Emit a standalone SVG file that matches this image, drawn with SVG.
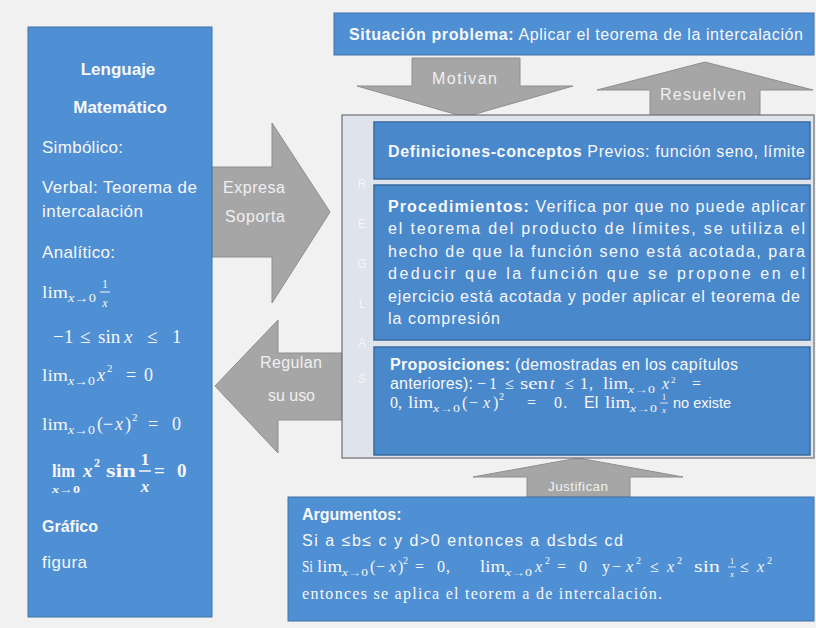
<svg xmlns="http://www.w3.org/2000/svg" width="816" height="628" viewBox="0 0 816 628">
<style>
.bg{fill:#f1f1f1}
.box{fill:#4f8fd3;stroke:#4174a8;stroke-width:1}
.ibox{fill:#4a88cc;stroke:#3a6a9c;stroke-width:1.5}
.cont{fill:#dfe3ec;stroke:#6f6f6f;stroke-width:1.2}
.arrow{fill:#a6a6a6;stroke:#8e8e8e;stroke-width:1}
.t{font-family:"Liberation Sans",Arial,sans-serif;font-size:16px;fill:#f7f7f7}
.lt{font-size:17px}
.b{font-weight:bold}
.m{font-family:"Liberation Serif","Times New Roman",serif;font-size:16px;fill:#f7f7f7}
.i{font-style:italic}
.s{font-size:10px}
.al{font-family:"Liberation Sans",Arial,sans-serif;font-size:16px;fill:#f0f0f0}
.rg{font-family:"Liberation Sans",Arial,sans-serif;font-size:12px;fill:#f6f6f6;text-anchor:middle}
.fl{stroke:#f7f7f7;stroke-width:1}
</style>
<rect class="bg" x="0" y="0" width="816" height="628"/>

<g id="connectors">
  <polygon id="arrow-motivan" class="arrow" points="412,58 520,58 520,86 573,86 465,117 357,86 412,86"/>
  <polygon id="arrow-resuelven" class="arrow" points="650,118 650,90 597,90 705,62 813,90 760,90 760,118"/>
  <polygon id="arrow-expresa" class="arrow" points="212,167 272,167 272,123 330,212 272,303 272,257 212,257"/>
  <polygon id="arrow-regulan" class="arrow" points="342,353 278,353 278,320 215,386 278,453 278,420 342,420"/>
  <polygon id="arrow-justifican" class="arrow" points="527,497 527,477 473,477 578,458 683,477 630,477 630,497"/>
  <text class="al" x="432" y="84" textLength="65">Motivan</text>
  <text class="al" x="660" y="100" textLength="86">Resuelven</text>
  <text class="al" x="223" y="193" textLength="62">Expresa</text>
  <text class="al" x="225" y="222" textLength="60">Soporta</text>
  <text class="al" x="260" y="368" textLength="62">Regulan</text>
  <text class="al" x="268" y="401" textLength="47">su uso</text>
  <text class="al" x="548" y="491" style="font-size:13.5px" textLength="60">Justifican</text>
</g>

<g id="lenguaje">
  <rect class="box" x="28" y="27" width="184" height="590"/>
  <text class="t b lt" x="118" y="75" text-anchor="middle">Lenguaje</text>
  <text class="t b lt" x="120" y="113" text-anchor="middle">Matemático</text>
  <text class="t lt" x="42" y="153" textLength="81">Simbólico:</text>
  <text class="t lt" x="42" y="193" textLength="155">Verbal: Teorema de</text>
  <text class="t lt" x="42" y="217" textLength="101">intercalación</text>
  <text class="t lt" x="42" y="258" textLength="73">Analítico:</text>
  <!-- lim 1/x -->
  <text class="m" x="42" y="298" style="font-size:17px" textLength="26" lengthAdjust="spacingAndGlyphs">lim</text>
  <text class="m" x="68" y="302" style="font-size:12px" textLength="28" lengthAdjust="spacingAndGlyphs"><tspan class="i">x</tspan>→0</text>
  <text class="m" x="105" y="288" style="font-size:12px" text-anchor="middle">1</text>
  <line class="fl" x1="100" y1="292" x2="110" y2="292"/>
  <text class="m i" x="105" y="307" style="font-size:12px" text-anchor="middle">x</text>
  <!-- -1 <= sin x <= 1 -->
  <text class="m" y="343" style="font-size:19px"><tspan x="53">−</tspan><tspan x="64">1</tspan><tspan x="80">≤</tspan><tspan x="98">sin</tspan><tspan x="124" class="i">x</tspan><tspan x="147">≤</tspan><tspan x="172">1</tspan></text>
  <!-- lim x^2 = 0 -->
  <text class="m" x="42" y="381" style="font-size:17px" textLength="26" lengthAdjust="spacingAndGlyphs">lim</text>
  <text class="m" x="68" y="385" style="font-size:12px" textLength="27" lengthAdjust="spacingAndGlyphs"><tspan class="i">x</tspan>→0</text>
  <text class="m" style="font-size:18px"><tspan x="97" y="381" class="i">x</tspan><tspan x="107" y="372" style="font-size:11px">2</tspan><tspan x="126" y="381">=</tspan><tspan x="144" y="381">0</tspan></text>
  <!-- lim (-x)^2 = 0 -->
  <text class="m" x="42" y="430" style="font-size:17px" textLength="26" lengthAdjust="spacingAndGlyphs">lim</text>
  <text class="m" x="68" y="434" style="font-size:12px" textLength="27" lengthAdjust="spacingAndGlyphs"><tspan class="i">x</tspan>→0</text>
  <text class="m" style="font-size:18px"><tspan x="97" y="430">(</tspan><tspan x="103" y="430">−</tspan><tspan x="115" y="430" class="i">x</tspan><tspan x="125" y="430">)</tspan><tspan x="132" y="421" style="font-size:11px">2</tspan><tspan x="148" y="430">=</tspan><tspan x="172" y="430">0</tspan></text>
  <!-- bold lim x^2 sin 1/x = 0 -->
  <text class="m b" x="52" y="477" style="font-size:18px" textLength="23" lengthAdjust="spacingAndGlyphs">lim</text>
  <text class="m b" x="52" y="493" style="font-size:11px" textLength="28" lengthAdjust="spacingAndGlyphs"><tspan class="i">x</tspan>→0</text>
  <text class="m b" style="font-size:19px"><tspan x="83" y="477" class="i">x</tspan><tspan x="94" y="467" style="font-size:12px">2</tspan></text>
  <text class="m b" x="106" y="477" style="font-size:19px" textLength="30" lengthAdjust="spacingAndGlyphs">sin</text>
  <text class="m b" x="145" y="465" style="font-size:17px" text-anchor="middle">1</text>
  <line class="fl" x1="139" y1="471" x2="151" y2="471" style="stroke-width:1.5"/>
  <text class="m b i" x="145" y="492" style="font-size:17px" text-anchor="middle">x</text>
  <text class="m b" style="font-size:19px"><tspan x="154" y="477">=</tspan><tspan x="177" y="477">0</tspan></text>
  <text class="t b" x="42" y="532">Gráfico</text>
  <text class="t lt" x="42" y="568" textLength="45">figura</text>
</g>

<g id="situacion">
  <rect class="box" x="334" y="13" width="480" height="42"/>
  <text class="t" x="349" y="40" textLength="454"><tspan class="b">Situación problema:</tspan> Aplicar el teorema de la intercalación</text>
</g>

<g id="reglas">
  <rect class="cont" x="342" y="115" width="472" height="343"/>
  <text class="rg" x="362" y="188">R</text>
  <text class="rg" x="362" y="228">E</text>
  <text class="rg" x="362" y="268">G</text>
  <text class="rg" x="362" y="308">L</text>
  <text class="rg" x="362" y="347">A</text>
  <text class="rg" x="362" y="383">S</text>
</g>

<g id="definiciones">
  <rect class="ibox" x="374" y="122" width="436" height="57"/>
  <text class="t" x="388" y="157" textLength="417"><tspan class="b">Definiciones-conceptos</tspan> Previos: función seno, límite</text>
</g>

<g id="procedimientos">
  <rect class="ibox" x="374" y="185" width="436" height="155"/>
  <text class="t" x="388" y="212" textLength="417"><tspan class="b">Procedimientos:</tspan> Verifica por que no puede aplicar</text>
  <text class="t" x="388" y="234" textLength="417">el teorema del producto de límites, se utiliza el</text>
  <text class="t" x="388" y="257" textLength="417">hecho de que la función seno está acotada, para</text>
  <text class="t" x="388" y="279" textLength="417">deducir que la función que se propone en el</text>
  <text class="t" x="388" y="302" textLength="412">ejercicio está acotada y poder aplicar el teorema de</text>
  <text class="t" x="388" y="324" textLength="112">la compresión</text>
</g>

<g id="proposiciones">
  <rect class="ibox" x="374" y="347" width="436" height="108"/>
  <text class="t" x="390" y="370" textLength="348"><tspan class="b">Proposiciones:</tspan> (demostradas en los capítulos</text>
  <text class="t" x="390" y="389" textLength="83">anteriores):</text>
  <text class="m"><tspan x="477" y="389">−</tspan><tspan x="489" y="389">1</tspan><tspan x="505" y="389">≤</tspan></text>
  <text class="m" x="520" y="389" textLength="28" lengthAdjust="spacingAndGlyphs">sen</text>
  <text class="m"><tspan x="550" y="389" class="i">t</tspan><tspan x="565" y="389">≤</tspan><tspan x="580" y="389">1</tspan><tspan x="589" y="389">,</tspan></text>
  <text class="m" x="603" y="389" textLength="25" lengthAdjust="spacingAndGlyphs">lim</text>
  <text class="m s" x="628" y="393" textLength="27" lengthAdjust="spacingAndGlyphs"><tspan class="i">x</tspan>→0</text>
  <text class="m"><tspan x="662" y="389" class="i">x</tspan><tspan x="671" y="383" style="font-size:9px">2</tspan><tspan x="692" y="389">=</tspan></text>
  <text class="m"><tspan x="390" y="408">0</tspan><tspan x="398" y="408">,</tspan></text>
  <text class="m" x="408" y="408" textLength="25" lengthAdjust="spacingAndGlyphs">lim</text>
  <text class="m s" x="433" y="412" textLength="27" lengthAdjust="spacingAndGlyphs"><tspan class="i">x</tspan>→0</text>
  <text class="m"><tspan x="462" y="408">(</tspan><tspan x="469" y="408">−</tspan><tspan x="483" y="408" class="i">x</tspan><tspan x="493" y="408">)</tspan><tspan x="499" y="400" class="s">2</tspan><tspan x="527" y="408">=</tspan><tspan x="554" y="408">0</tspan></text>
  <text class="t" x="563" y="408">.</text>
  <text class="t" x="584" y="408">El</text>
  <text class="m" x="605" y="408" textLength="25" lengthAdjust="spacingAndGlyphs">lim</text>
  <text class="m s" x="630" y="412" textLength="27" lengthAdjust="spacingAndGlyphs"><tspan class="i">x</tspan>→0</text>
  <text class="m" x="664" y="400" style="font-size:9px" text-anchor="middle">1</text>
  <line class="fl" x1="660" y1="403" x2="668" y2="403" style="stroke-width:0.8"/>
  <text class="m i" x="664" y="413" style="font-size:9px" text-anchor="middle">x</text>
  <text class="t" x="673" y="408" style="font-size:14.5px">no existe</text>
</g>

<g id="argumentos">
  <rect class="box" x="288" y="497" width="526" height="124"/>
  <text class="t b" x="302" y="520">Argumentos:</text>
  <text class="t" x="302" y="546" textLength="321">Si a ≤b≤ c  y  d&gt;0 entonces   a d≤bd≤ cd</text>
  <text class="m" x="302" y="572" textLength="11" lengthAdjust="spacingAndGlyphs">Si</text>
  <text class="m" x="317" y="572" textLength="25" lengthAdjust="spacingAndGlyphs">lim</text>
  <text class="m s" x="342" y="576" textLength="26" lengthAdjust="spacingAndGlyphs"><tspan class="i">x</tspan>→0</text>
  <text class="m"><tspan x="370" y="572">(</tspan><tspan x="376" y="572">−</tspan><tspan x="389" y="572" class="i">x</tspan><tspan x="398" y="572">)</tspan><tspan x="403" y="564" class="s">2</tspan><tspan x="415" y="572">=</tspan><tspan x="437" y="572">0</tspan><tspan x="446" y="572">,</tspan></text>
  <text class="m" x="480" y="572" textLength="25" lengthAdjust="spacingAndGlyphs">lim</text>
  <text class="m s" x="505" y="576" textLength="27" lengthAdjust="spacingAndGlyphs"><tspan class="i">x</tspan>→0</text>
  <text class="m"><tspan x="535" y="572" class="i">x</tspan><tspan x="545" y="564" class="s">2</tspan><tspan x="557" y="572">=</tspan><tspan x="579" y="572">0</tspan><tspan x="602" y="572">y</tspan><tspan x="612" y="572">−</tspan><tspan x="626" y="572" class="i">x</tspan><tspan x="636" y="564" class="s">2</tspan><tspan x="650" y="572">≤</tspan><tspan x="667" y="572" class="i">x</tspan><tspan x="677" y="564" class="s">2</tspan></text>
  <text class="m" x="694" y="572" textLength="26" lengthAdjust="spacingAndGlyphs">sin</text>
  <text class="m" x="732" y="564" style="font-size:9px" text-anchor="middle">1</text>
  <line class="fl" x1="728" y1="567" x2="736" y2="567" style="stroke-width:0.8"/>
  <text class="m i" x="732" y="577" style="font-size:9px" text-anchor="middle">x</text>
  <text class="m"><tspan x="740" y="572">≤</tspan><tspan x="757" y="572" class="i">x</tspan><tspan x="767" y="564" class="s">2</tspan></text>
  <text class="m" x="302" y="599" textLength="360">entonces se aplica el teorem a de intercalación.</text>
</g>
</svg>
